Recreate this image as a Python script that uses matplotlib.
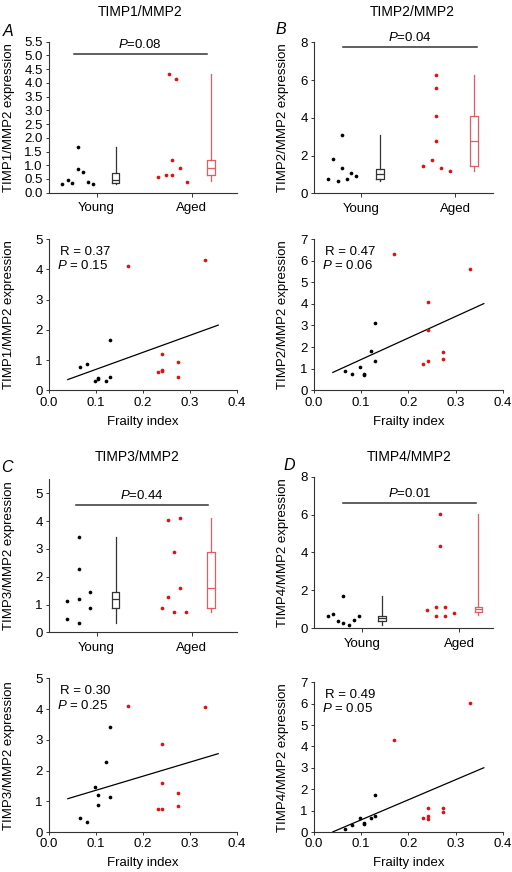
#!/usr/bin/env python3
"""TIMP/MMP2 ratios: young vs aged dot+box plots and correlation with frailty index."""

import numpy as np
import matplotlib.pyplot as plt

plt.rcParams["font.family"] = ["Liberation Sans", "DejaVu Sans"]
plt.rcParams["font.size"] = 9
plt.rcParams["mathtext.fontset"] = "custom"
plt.rcParams["mathtext.rm"] = "Liberation Sans"
plt.rcParams["mathtext.it"] = "Liberation Sans:italic"

W, H = 512, 872

GROUPS = ["Young", "Aged"]
LETTERS = ["A", "B", "C", "D"]
TITLES = ["TIMP1/MMP2", "TIMP2/MMP2", "TIMP3/MMP2", "TIMP4/MMP2"]
GROUP_P = ["0.08", "0.04", "0.44", "0.01"]
CORR_R = ["0.37", "0.47", "0.30", "0.49"]
CORR_P = ["0.15", "0.06", "0.25", "0.05"]

# frailty index per subject
FRAILTY_YOUNG = [0.065, 0.081, 0.097, 0.105, 0.105, 0.121, 0.129, 0.129]
FRAILTY_AGED = [0.169, 0.232, 0.241, 0.241, 0.241, 0.274, 0.274, 0.331]

# expression per subject (same order as frailty)
TIMP1_YOUNG = [0.77, 0.86, 0.31, 0.40, 0.37, 0.31, 1.65, 0.45]
TIMP1_AGED = [4.12, 0.59, 1.20, 0.66, 0.65, 0.94, 0.44, 4.30]
TIMP2_YOUNG = [0.91, 0.75, 1.06, 0.75, 0.70, 1.83, 3.13, 1.34]
TIMP2_AGED = [6.29, 1.22, 4.10, 2.80, 1.36, 1.79, 1.46, 5.60]
TIMP3_YOUNG = [0.44, 0.34, 1.45, 1.19, 0.89, 2.27, 3.40, 1.14]
TIMP3_AGED = [4.11, 0.74, 0.74, 2.87, 1.60, 1.27, 0.86, 4.07]
TIMP4_YOUNG = [0.16, 0.31, 0.66, 0.41, 0.37, 0.67, 1.73, 0.76]
TIMP4_AGED = [4.31, 0.67, 1.14, 0.76, 0.62, 1.14, 0.95, 6.02]

# dot plot values, left to right as drawn
TIMP1_DOTS_YOUNG = [0.30, 0.45, 0.37, 1.65, 0.85, 0.75, 0.40, 0.30]
TIMP1_DOTS_AGED = [0.56, 0.64, 4.31, 1.18, 0.64, 4.13, 0.91, 0.40]
TIMP2_DOTS_YOUNG = [0.74, 1.82, 0.67, 3.11, 1.32, 0.74, 1.06, 0.90]
TIMP2_DOTS_AGED = [1.45, 1.78, 6.27, 5.58, 4.08, 2.79, 1.36, 1.18]
TIMP3_DOTS_YOUNG = [1.14, 0.47, 3.42, 2.28, 1.19, 0.34, 1.45, 0.88]
TIMP3_DOTS_AGED = [0.88, 4.05, 1.26, 2.88, 0.73, 4.10, 1.61, 0.73]
TIMP4_DOTS_YOUNG = [0.65, 0.72, 0.37, 1.71, 0.28, 0.14, 0.41, 0.65]
TIMP4_DOTS_AGED = [0.97, 1.13, 0.63, 6.03, 4.32, 1.13, 0.63, 0.79]

# box stats: whisker low, q1, median, q3, whisker high
TIMP1_BOX_YOUNG = [0.30, 0.36, 0.46, 0.73, 1.65]
TIMP1_BOX_AGED = [0.42, 0.64, 0.91, 1.18, 4.31]
TIMP2_BOX_YOUNG = [0.67, 0.74, 1.04, 1.30, 3.11]
TIMP2_BOX_AGED = [1.18, 1.45, 2.79, 4.08, 6.27]
TIMP3_BOX_YOUNG = [0.34, 0.88, 1.21, 1.44, 3.42]
TIMP3_BOX_AGED = [0.73, 0.88, 1.61, 2.88, 4.10]
TIMP4_BOX_YOUNG = [0.14, 0.37, 0.55, 0.65, 1.71]
TIMP4_BOX_AGED = [0.67, 0.83, 0.99, 1.11, 6.03]

YOUNG = [TIMP1_YOUNG, TIMP2_YOUNG, TIMP3_YOUNG, TIMP4_YOUNG]
AGED = [TIMP1_AGED, TIMP2_AGED, TIMP3_AGED, TIMP4_AGED]
DOTS_YOUNG = [TIMP1_DOTS_YOUNG, TIMP2_DOTS_YOUNG, TIMP3_DOTS_YOUNG, TIMP4_DOTS_YOUNG]
DOTS_AGED = [TIMP1_DOTS_AGED, TIMP2_DOTS_AGED, TIMP3_DOTS_AGED, TIMP4_DOTS_AGED]
BOX_YOUNG = [TIMP1_BOX_YOUNG, TIMP2_BOX_YOUNG, TIMP3_BOX_YOUNG, TIMP4_BOX_YOUNG]
BOX_AGED = [TIMP1_BOX_AGED, TIMP2_BOX_AGED, TIMP3_BOX_AGED, TIMP4_BOX_AGED]

# layout (pixels) and per-panel styling
TOP_BOX = [(49, 41.7, 237, 192.7), (314, 42.3, 493, 193.3),
           (49, 479.4, 237, 632.3), (314, 476.7, 493, 628)]
BOT_BOX = [(49, 239, 237, 390.3), (314, 239, 502.7, 390.3),
           (49, 678.3, 237, 832), (314, 682.3, 502.7, 832)]
TOP_XLIM = [3.95, 3.8, 3.95, 3.7]
TOP_YLIM = [5.5, 8, 5.5, 8]
TOP_YTICKS = [np.arange(0, 5.51, 0.5), np.arange(0, 9, 2), np.arange(0, 6, 1), np.arange(0, 9, 2)]
BOT_YLIM = [5, 7, 5, 7]
SIG_Y = [5.05, 7.77, 4.58, 6.6]
SIG_X = [(0.52, 3.32), (0.62, 3.45), (0.56, 3.35), (0.60, 3.35)]
JITTER_YOUNG = [
    [-0.72, -0.61, -0.51, -0.40, -0.40, -0.29, -0.19, -0.07],
    [-0.70, -0.60, -0.50, -0.40, -0.40, -0.31, -0.21, -0.11],
    [-0.63, -0.63, -0.38, -0.38, -0.38, -0.38, -0.14, -0.14],
    [-0.72, -0.61, -0.51, -0.40, -0.40, -0.28, -0.18, -0.07],
]
JITTER_AGED = [
    [-0.70, -0.55, -0.48, -0.41, -0.41, -0.33, -0.25, -0.11],
    [-0.69, -0.50, -0.40, -0.40, -0.40, -0.40, -0.31, -0.12],
    [-0.63, -0.51, -0.51, -0.38, -0.38, -0.25, -0.25, -0.13],
    [-0.67, -0.48, -0.48, -0.39, -0.39, -0.30, -0.30, -0.10],
]
TITLE_XY = [(140, 12), (412.7, 12), (137, 457), (409, 457)]
LETTER_XY = [(8, 31.7), (281, 30), (7.3, 467.7), (289.3, 465.7)]
YLABEL_X = [9, 282.7, 9, 282.7]

RED = "#e01010"
RED_BOX = "#e65a62"
GREY = "#333333"
DOT_SIZE = 7


def px_axes(fig, box):
    l, t, r, b = box
    return fig.add_axes([l / W, 1 - b / H, (r - l) / W, (b - t) / H])


def style(ax):
    for side in ("top", "right"):
        ax.spines[side].set_visible(False)
    for side in ("left", "bottom"):
        ax.spines[side].set_color(GREY)
        ax.spines[side].set_linewidth(0.8)
    ax.tick_params(direction="out", length=2.5, width=0.7, color=GREY,
                   labelsize=9.5, pad=2)


def set_ylabel(ax, box, text, xpx):
    l, t, r, b = box
    ax.set_ylabel(text, fontsize=9.5)
    ax.yaxis.label.set_va("center")
    ax.yaxis.set_label_coords((xpx - l) / (r - l), 0.5)


def box_stats(s):
    return {"whislo": s[0], "q1": s[1], "med": s[2], "q3": s[3], "whishi": s[4], "fliers": []}


def plot_groups(fig, i):
    box = TOP_BOX[i]
    ax = px_axes(fig, box)
    style(ax)
    ticks = [1, 3]
    for x0, dots, jit, stats, dc, bc in [
        (ticks[0], DOTS_YOUNG[i], JITTER_YOUNG[i], BOX_YOUNG[i], "black", GREY),
        (ticks[1], DOTS_AGED[i], JITTER_AGED[i], BOX_AGED[i], RED, RED_BOX),
    ]:
        ax.scatter(np.array(jit) + x0, dots, s=DOT_SIZE, color=dc, lw=0, zorder=3)
        props = dict(color=bc, linewidth=0.9)
        ax.bxp([box_stats(stats)], positions=[x0 + 0.40], widths=0.16,
               showcaps=False, showfliers=False,
               boxprops=props, whiskerprops=props, medianprops=props)
    ax.plot(SIG_X[i], [SIG_Y[i]] * 2, color=GREY, lw=1.1, clip_on=False)
    ax.annotate("$P$=" + GROUP_P[i], (np.mean(SIG_X[i]), SIG_Y[i]),
                xytext=(0, 2), textcoords="offset points",
                ha="center", va="bottom", fontsize=9.5, annotation_clip=False)
    ax.set_xlim(0, TOP_XLIM[i])
    ax.set_ylim(0, TOP_YLIM[i])
    ax.set_xticks(ticks)
    ax.set_xticklabels(GROUPS)
    ax.set_yticks(TOP_YTICKS[i])
    if i == 0:
        ax.set_yticklabels([f"{v:.1f}" for v in TOP_YTICKS[i]])
    else:
        ax.set_yticklabels([f"{v:g}" for v in TOP_YTICKS[i]])
    ax.tick_params(axis="x", length=3, pad=4)
    set_ylabel(ax, box, f"{TITLES[i]} expression", YLABEL_X[i])


def plot_corr(fig, i):
    box = BOT_BOX[i]
    ax = px_axes(fig, box)
    style(ax)
    ax.scatter(FRAILTY_YOUNG, YOUNG[i], s=DOT_SIZE, color="black", lw=0, zorder=3)
    ax.scatter(FRAILTY_AGED, AGED[i], s=DOT_SIZE, color=RED, lw=0, zorder=3)
    xs = np.array(FRAILTY_YOUNG + FRAILTY_AGED)
    ys = np.array(YOUNG[i] + AGED[i])
    slope, icpt = np.polyfit(xs, ys, 1)
    fx = np.array([0.04, 0.36])
    ax.plot(fx, slope * fx + icpt, color="black", lw=0.9)
    ax.text(0.06, 0.915, f"R = {CORR_R[i]}", transform=ax.transAxes,
            ha="left", va="center", fontsize=9.5)
    ax.text(0.045, 0.825, f"$P$ = {CORR_P[i]}", transform=ax.transAxes,
            ha="left", va="center", fontsize=9.5)
    ax.set_xlim(0, 0.4)
    ax.set_ylim(0, BOT_YLIM[i])
    ax.set_xticks(np.arange(0, 0.41, 0.1))
    ax.set_xticklabels([f"{v:.1f}" for v in np.arange(0, 0.41, 0.1)])
    ax.set_yticks(range(0, BOT_YLIM[i] + 1))
    ax.set_xlabel("Frailty index", fontsize=9.5)
    ax.xaxis.label.set_va("center")
    l, t, r, b = box
    ax.xaxis.set_label_coords(0.5, -31.4 / (b - t))
    set_ylabel(ax, box, f"{TITLES[i]} expression", YLABEL_X[i])


def main():
    fig = plt.figure(figsize=(W / 100, H / 100), dpi=100)
    for i in range(4):
        plot_groups(fig, i)
        plot_corr(fig, i)
        tx, ty = TITLE_XY[i]
        fig.text(tx / W, 1 - ty / H, TITLES[i], ha="center", va="center", fontsize=10)
        lx, ly = LETTER_XY[i]
        fig.text(lx / W, 1 - ly / H, LETTERS[i], ha="center", va="center",
                 fontsize=11.5, style="italic")
    fig.savefig("out.png", dpi=100)


if __name__ == "__main__":
    main()
